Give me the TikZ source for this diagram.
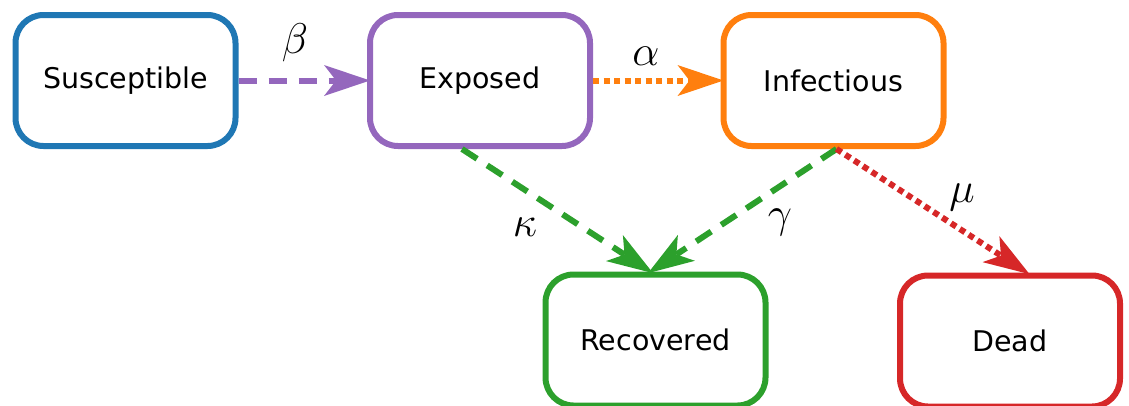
\RequirePackage{fix-cm}
\documentclass[tikz,border=0pt]{standalone}
\usepackage{fontspec}
\setmainfont{DejaVu Sans}
\usetikzlibrary{arrows.meta}
\definecolor{tabblue}{HTML}{1F77B4}
\definecolor{tabpurple}{HTML}{9467BD}
\definecolor{taborange}{HTML}{FF7F0E}
\definecolor{tabgreen}{HTML}{2CA02C}
\definecolor{tabred}{HTML}{D62728}
\begin{document}
\begin{tikzpicture}[x=1pt,y=-1pt,
  state/.style={draw, line width=6pt, rounded corners=28pt, minimum width=220pt, minimum height=131pt, inner sep=0pt, font=\fontsize{28.5}{34}\selectfont},
  flow/.style={line width=6pt, -{Stealth[length=46pt,width=31pt,inset=12pt,line width=0pt]}, shorten >=-3pt},
  dashedflow/.style={flow, dash pattern=on 18pt off 12pt},
  dottedflow/.style={flow, dash pattern=on 6pt off 4.5pt},
  rate/.style={font=\fontsize{43}{43}\selectfont, inner sep=0pt}]
\useasboundingbox (0,0) rectangle (1129,405);
\node[state, draw=tabblue]   (S) at (125.5,80.5) {Susceptible};
\node[state, draw=tabpurple] (E) at (480,80.5) {Exposed};
\node[state, draw=taborange] (I) at (833.5,80.5) {Infectious};
\node[state, draw=tabgreen]  (R) at (655.5,340) {Recovered};
\node[state, draw=tabred]    (D) at (1010,341) {Dead};
\draw[dashedflow, tabpurple] (S.east) -- (E.west);
\draw[dottedflow, taborange] (E.east) -- (I.west);
\draw[dashedflow, tabgreen] ([xshift=-18pt]E.south) -- ([xshift=-5pt]R.north);
\draw[dashedflow, tabgreen] ([xshift=3pt]I.south) -- ([xshift=-5pt]R.north);
\draw[dottedflow, tabred] ([xshift=3pt]I.south) -- ([xshift=17pt]D.north);
\node[rate] (lb) at (295,43) {$\beta$};
\node[rate] (la) at (646,56) {$\alpha$};
\node[rate] (lk) at (525,227) {$\kappa$};
\node[rate] (lg) at (780,222) {$\gamma$};
\node[rate] (lm) at (962,197) {$\mu$};
\end{tikzpicture}
\end{document}
